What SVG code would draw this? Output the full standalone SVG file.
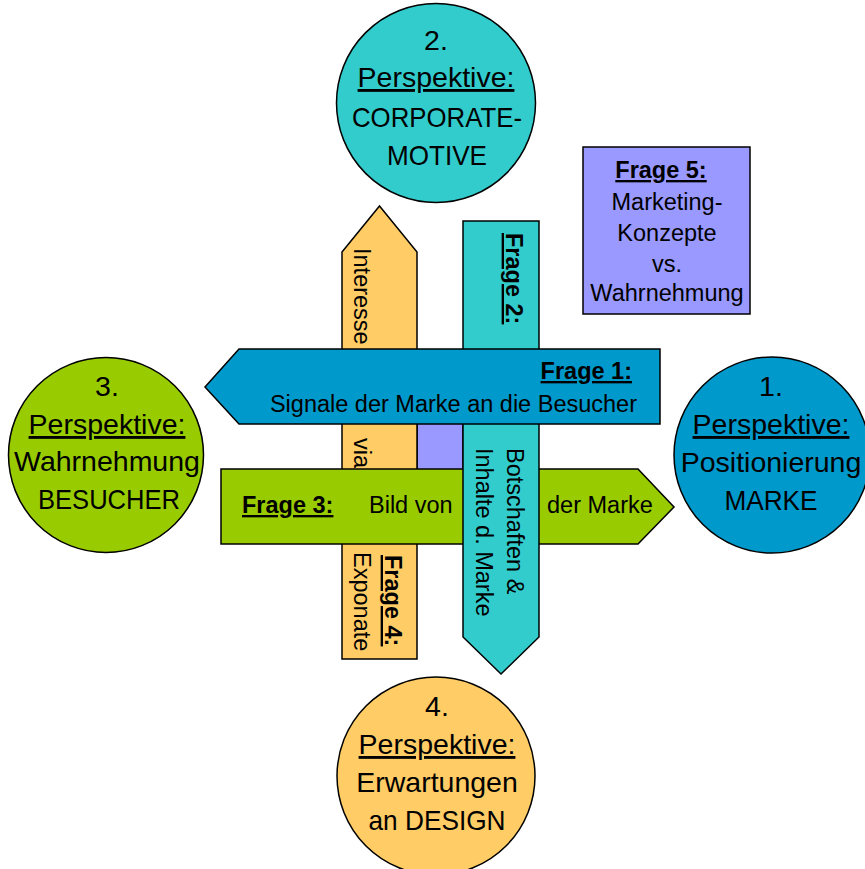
<svg xmlns="http://www.w3.org/2000/svg" width="865" height="869" viewBox="0 0 865 869">
<style>
  .shape { stroke: #000; stroke-width: 1.5; }
  .t { font-family: "Liberation Sans", Arial, sans-serif; font-size: 23.5px; fill: #000; }
  .c { font-family: "Liberation Sans", Arial, sans-serif; font-size: 28.5px; fill: #000; text-anchor: middle; }
  .b { font-weight: bold; text-decoration: underline; }
  .u { text-decoration: underline; }
  .teal { fill: #33CCCC; }
  .blue { fill: #0099CC; }
  .green { fill: #99CC00; }
  .orange { fill: #FFCC66; }
  .purple { fill: #9999FF; }
</style>
<rect width="865" height="869" fill="#fff"/>

<g id="center-block">
  <rect class="shape purple" x="417" y="380" width="46" height="140"/>
</g>

<g id="connectors">
  <g id="arrow-frage4">
    <polygon class="shape orange" points="342,252 379.5,206 417,252 417,659 342,659"/>
    <text class="t" transform="translate(354,248) rotate(90)">Interesse</text>
    <text class="t" transform="translate(354,438) rotate(90)">via</text>
    <text class="t" transform="translate(354,552) rotate(90)">Exponate</text>
    <text class="t b" transform="translate(385,555) rotate(90)">Frage 4:</text>
  </g>
  <g id="arrow-frage3">
    <polygon class="shape green" points="221,469 638,469 674,507 638,544 221,544"/>
    <text class="t b" x="242" y="513">Frage 3:</text>
    <text class="t" x="369" y="513">Bild von</text>
    <text class="t" x="547" y="513">der Marke</text>
  </g>
  <g id="arrow-frage2">
    <polygon class="shape teal" points="463,221 539,221 539,637 501,674 463,637"/>
    <text class="t b" transform="translate(506,233) rotate(90)">Frage 2:</text>
    <text class="t" transform="translate(507,448) rotate(90)">Botschaften &amp;</text>
    <text class="t" transform="translate(476,448) rotate(90)">Inhalte d. Marke</text>
  </g>
  <g id="arrow-frage1">
    <polygon class="shape blue" points="205,387 239,349 660,349 660,424 239,424"/>
    <text class="t b" x="632" y="379" text-anchor="end">Frage 1:</text>
    <text class="t" x="637" y="412" text-anchor="end">Signale der Marke an die Besucher</text>
  </g>
</g>

<g id="frage5">
  <rect class="shape purple" x="583" y="147" width="167" height="167"/>
  <text class="t b" x="661" y="178" text-anchor="middle">Frage 5:</text>
  <text class="t" x="667" y="210" text-anchor="middle">Marketing-</text>
  <text class="t" x="667" y="241" text-anchor="middle">Konzepte</text>
  <text class="t" x="667" y="272" text-anchor="middle">vs.</text>
  <text class="t" x="667" y="301" text-anchor="middle">Wahrnehmung</text>
</g>

<g id="perspektive2">
  <circle class="shape teal" cx="436" cy="103" r="99.5"/>
  <text class="c" x="436" y="50">2.</text>
  <text class="c u" x="436" y="87">Perspektive:</text>
  <text class="c" x="437" y="127" textLength="170" lengthAdjust="spacingAndGlyphs">CORPORATE-</text>
  <text class="c" x="437" y="165" textLength="100" lengthAdjust="spacingAndGlyphs">MOTIVE</text>
</g>

<g id="perspektive1">
  <circle class="shape blue" cx="772" cy="455" r="98"/>
  <text class="c" x="771" y="396">1.</text>
  <text class="c u" x="771" y="434">Perspektive:</text>
  <text class="c" x="771" y="472">Positionierung</text>
  <text class="c" x="771" y="510" textLength="93" lengthAdjust="spacingAndGlyphs">MARKE</text>
</g>

<g id="perspektive3">
  <circle class="shape green" cx="106" cy="455" r="97.5"/>
  <text class="c" x="107" y="396">3.</text>
  <text class="c u" x="107" y="434">Perspektive:</text>
  <text class="c" x="107" y="471">Wahrnehmung</text>
  <text class="c" x="109" y="509" textLength="142" lengthAdjust="spacingAndGlyphs">BESUCHER</text>
</g>

<g id="perspektive4">
  <circle class="shape orange" cx="436" cy="776" r="99"/>
  <text class="c" x="437" y="716">4.</text>
  <text class="c u" x="437" y="754">Perspektive:</text>
  <text class="c" x="437" y="792">Erwartungen</text>
  <text class="c" x="437" y="830" textLength="137" lengthAdjust="spacingAndGlyphs">an DESIGN</text>
</g>
</svg>
